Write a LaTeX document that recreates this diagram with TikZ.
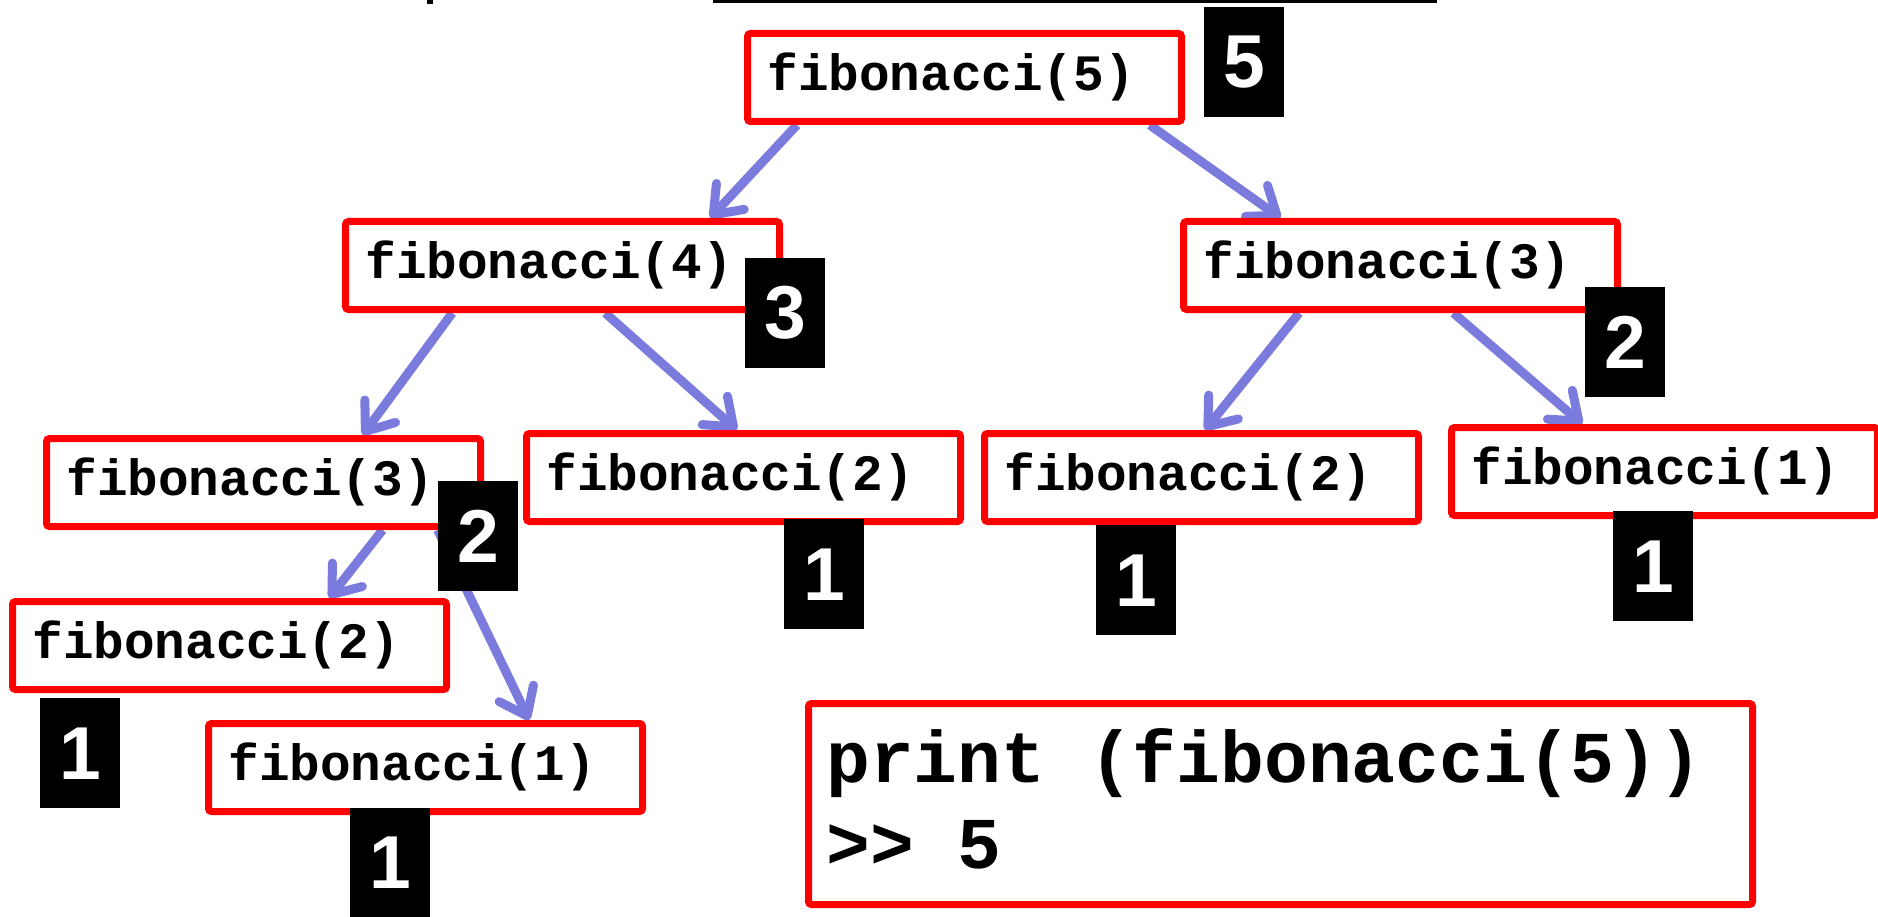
\documentclass[tikz,border=0pt]{standalone}
\usepackage{fontspec}
\usetikzlibrary{arrows.meta,calc}
\newfontfamily\codefont{Liberation Mono}
\newfontfamily\numfont{Liberation Sans}
\definecolor{arrowc}{RGB}{123,123,222}
\pgfdeclarelayer{bg}
\pgfsetlayers{bg,main}
\begin{document}
\begin{tikzpicture}[x=1pt,y=-1pt,
 fibbox/.style={draw=red, line width=7pt, rounded corners=3pt, fill=white, anchor=north west,
   font={\codefont\bfseries\fontsize{51pt}{51pt}\selectfont}, text width=#1, align=left,
   inner xsep=20pt, inner ysep=21pt, text height=36pt, text depth=10pt},
 fibbox/.default=394pt,
 val/.style={fill=black, text=white, font={\numfont\bfseries\fontsize{75pt}{75pt}\selectfont},
   anchor=north west, inner sep=0pt, minimum width=80pt, minimum height=110pt},
 call/.style={draw=arrowc, line width=9pt, -{Straight Barb[length=25pt,width=38pt,round]}},
 printtext/.style={anchor=base west, inner sep=0pt, font={\codefont\bfseries\fontsize{73pt}{84pt}\selectfont}}
]
\useasboundingbox (0,0) rectangle (1878,917);

% cut-off fragments at the top
\fill[black] (427,0) rectangle (433,4);
\draw[line width=3pt] (713,1.5) -- (1437,1.5);

% call boxes
\node[fibbox] (f5)  at (744,30)   {fibonacci(5)};
\node[fibbox] (f4)  at (342,218)  {fibonacci(4)};
\node[fibbox] (f3r) at (1180,218) {fibonacci(3)};
\node[fibbox] (f3l) at (43,435)   {fibonacci(3)};
\node[fibbox] (f2m) at (523,430)  {fibonacci(2)};
\node[fibbox] (f2r) at (981,430)  {fibonacci(2)};
\node[fibbox=386pt] (f1r) at (1448,424) {fibonacci(1)};
\node[fibbox] (f2bl) at (9,598)  {fibonacci(2)};
\node[fibbox] (f1b) at (205,720)  {fibonacci(1)};

% print box
\node[draw=red, line width=7pt, rounded corners=3pt, fill=white, anchor=north west,
      minimum width=944pt, minimum height=201pt, inner sep=0pt] (pbox) at (805,700) {};
\node[printtext] (pline1) at (826,782) {print (fibonacci(5))};
\node[printtext] (pline2) at (826,868) {>\kern0pt> 5};

% arrows
\begin{pgfonlayer}{bg}
\fill[white] (0,0) rectangle (1878,917);
\draw[call] ($(f5.south west)!0.12!(f5.south east)$) -- ($(f4.north west)!0.835!(f4.north east)$);
\draw[call] ($(f5.south west)!0.92!(f5.south east)$) -- ($(f3r.north west)!0.228!(f3r.north east)$);
\draw[call] ($(f4.south west)!0.25!(f4.south east)$) -- ($(f3l.north west)!0.725!(f3l.north east)$);
\draw[call] ($(f4.south west)!0.597!(f4.south east)$) -- ($(f2m.north west)!0.485!(f2m.north east)$);
\draw[call] ($(f3r.south west)!0.27!(f3r.south east)$) -- ($(f2r.north west)!0.508!(f2r.north east)$);
\draw[call] ($(f3r.south west)!0.62!(f3r.south east)$) -- ($(f1r.north west)!0.31!(f1r.north east)$);
\draw[call] ($(f3l.south west)!0.77!(f3l.south east)$) -- ($(f2bl.north west)!0.726!(f2bl.north east)$);
\draw[call] ($(f3l.south west)!0.895!(f3l.south east)$) -- ($(f1b.north west)!0.735!(f1b.north east)$);
\end{pgfonlayer}

% return values
\node[val] (v5)   at (1204,7)  {5};
\node[val] (v4)   at (745,258) {3};
\node[val] (v3r)  at (1585,287) {2};
\node[val] (v3l)  at (438,481) {2};
\node[val] (v2m)  at (784,519) {1};
\node[val] (v2r)  at (1096,525) {1};
\node[val] (v1r)  at (1613,511) {1};
\node[val] (v2bl) at (40,698)  {1};
\node[val, minimum height=109pt] (v1b) at (350,808) {1};
\end{tikzpicture}
\end{document}
